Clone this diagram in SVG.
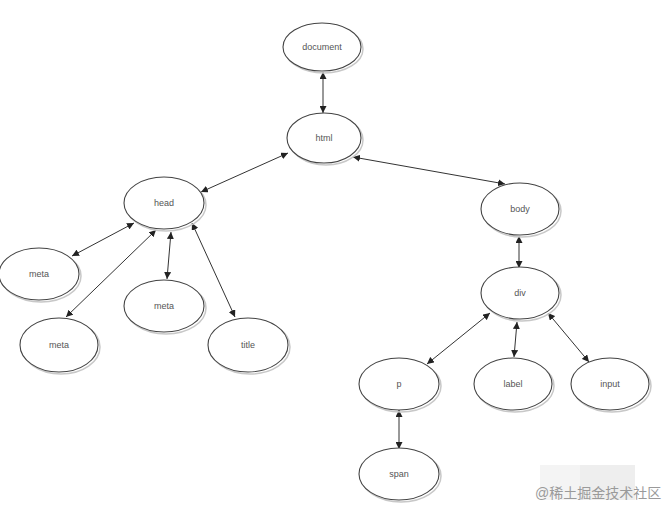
<svg xmlns="http://www.w3.org/2000/svg" width="665" height="507" viewBox="0 0 665 507">
<defs>
<marker id="ah" viewBox="0 0 10 10" refX="10" refY="5" markerWidth="7" markerHeight="7" markerUnits="userSpaceOnUse" orient="auto-start-reverse">
<path d="M0,0 L10,5 L0,10 z" fill="#222"/>
</marker>
</defs>
<style>
.node ellipse.sh{fill:none;stroke:#c8c8c8;stroke-width:1.5}
.node ellipse.bd{fill:#fff;stroke:#444;stroke-width:1.1}
.node text{font-family:"Liberation Sans",Arial,sans-serif;font-size:9px;fill:#555;text-anchor:middle;dominant-baseline:central}
.edges line{stroke:#333;stroke-width:1;marker-start:url(#ah);marker-end:url(#ah)}
.wm{font-family:"Liberation Sans","Noto Sans CJK SC",sans-serif;font-size:14px;fill:#9a9a9a}
</style>
<rect width="665" height="507" fill="#fff"/>
<rect x="540" y="465" width="95" height="35" fill="#f4f4f4"/>
<rect x="580" y="465" width="55" height="35" fill="#eeeeee"/>
<g class="edges">
<line x1="323" y1="72" x2="323" y2="113"/>
<line x1="288" y1="153" x2="201" y2="192"/>
<line x1="353" y1="157" x2="505" y2="184"/>
<line x1="134" y1="223" x2="72" y2="256"/>
<line x1="156" y1="230" x2="66" y2="317"/>
<line x1="171" y1="232" x2="167" y2="279"/>
<line x1="192" y1="223" x2="235" y2="317"/>
<line x1="519" y1="236" x2="519" y2="268"/>
<line x1="490" y1="313" x2="427" y2="364"/>
<line x1="517" y1="322" x2="514" y2="357"/>
<line x1="548" y1="313" x2="589" y2="362"/>
<line x1="399" y1="410" x2="399" y2="449"/>
</g>
<g id="document" class="node"><ellipse class="sh" cx="324" cy="49" rx="39" ry="24"/><ellipse class="bd" cx="322" cy="47" rx="39" ry="24"/><text x="322" y="47">document</text></g>
<g id="html" class="node"><ellipse class="sh" cx="326" cy="140" rx="37" ry="25"/><ellipse class="bd" cx="324" cy="138" rx="37" ry="25"/><text x="324" y="138">html</text></g>
<g id="head" class="node"><ellipse class="sh" cx="166" cy="205" rx="40" ry="26"/><ellipse class="bd" cx="164" cy="203" rx="40" ry="26"/><text x="164" y="203">head</text></g>
<g id="meta1" class="node"><ellipse class="sh" cx="41" cy="276" rx="40" ry="26"/><ellipse class="bd" cx="39" cy="274" rx="40" ry="26"/><text x="39" y="274">meta</text></g>
<g id="meta2" class="node"><ellipse class="sh" cx="61" cy="347" rx="39" ry="27"/><ellipse class="bd" cx="59" cy="345" rx="39" ry="27"/><text x="59" y="345">meta</text></g>
<g id="meta3" class="node"><ellipse class="sh" cx="166" cy="308" rx="40" ry="26"/><ellipse class="bd" cx="164" cy="306" rx="40" ry="26"/><text x="164" y="306">meta</text></g>
<g id="title" class="node"><ellipse class="sh" cx="250" cy="347" rx="40" ry="27"/><ellipse class="bd" cx="248" cy="345" rx="40" ry="27"/><text x="248" y="345">title</text></g>
<g id="body" class="node"><ellipse class="sh" cx="522" cy="211" rx="39" ry="26"/><ellipse class="bd" cx="520" cy="209" rx="39" ry="26"/><text x="520" y="209">body</text></g>
<g id="div" class="node"><ellipse class="sh" cx="522" cy="295" rx="39" ry="26"/><ellipse class="bd" cx="520" cy="293" rx="39" ry="26"/><text x="520" y="293">div</text></g>
<g id="p" class="node"><ellipse class="sh" cx="401" cy="386" rx="40" ry="26"/><ellipse class="bd" cx="399" cy="384" rx="40" ry="26"/><text x="399" y="384">p</text></g>
<g id="label" class="node"><ellipse class="sh" cx="515" cy="386" rx="39" ry="26"/><ellipse class="bd" cx="513" cy="384" rx="39" ry="26"/><text x="513" y="384">label</text></g>
<g id="input" class="node"><ellipse class="sh" cx="612" cy="386" rx="39" ry="26"/><ellipse class="bd" cx="610" cy="384" rx="39" ry="26"/><text x="610" y="384">input</text></g>
<g id="span" class="node"><ellipse class="sh" cx="401" cy="476" rx="40" ry="26"/><ellipse class="bd" cx="399" cy="474" rx="40" ry="26"/><text x="399" y="474">span</text></g>
<text class="wm" x="535" y="498">@稀土掘金技术社区</text>
</svg>
